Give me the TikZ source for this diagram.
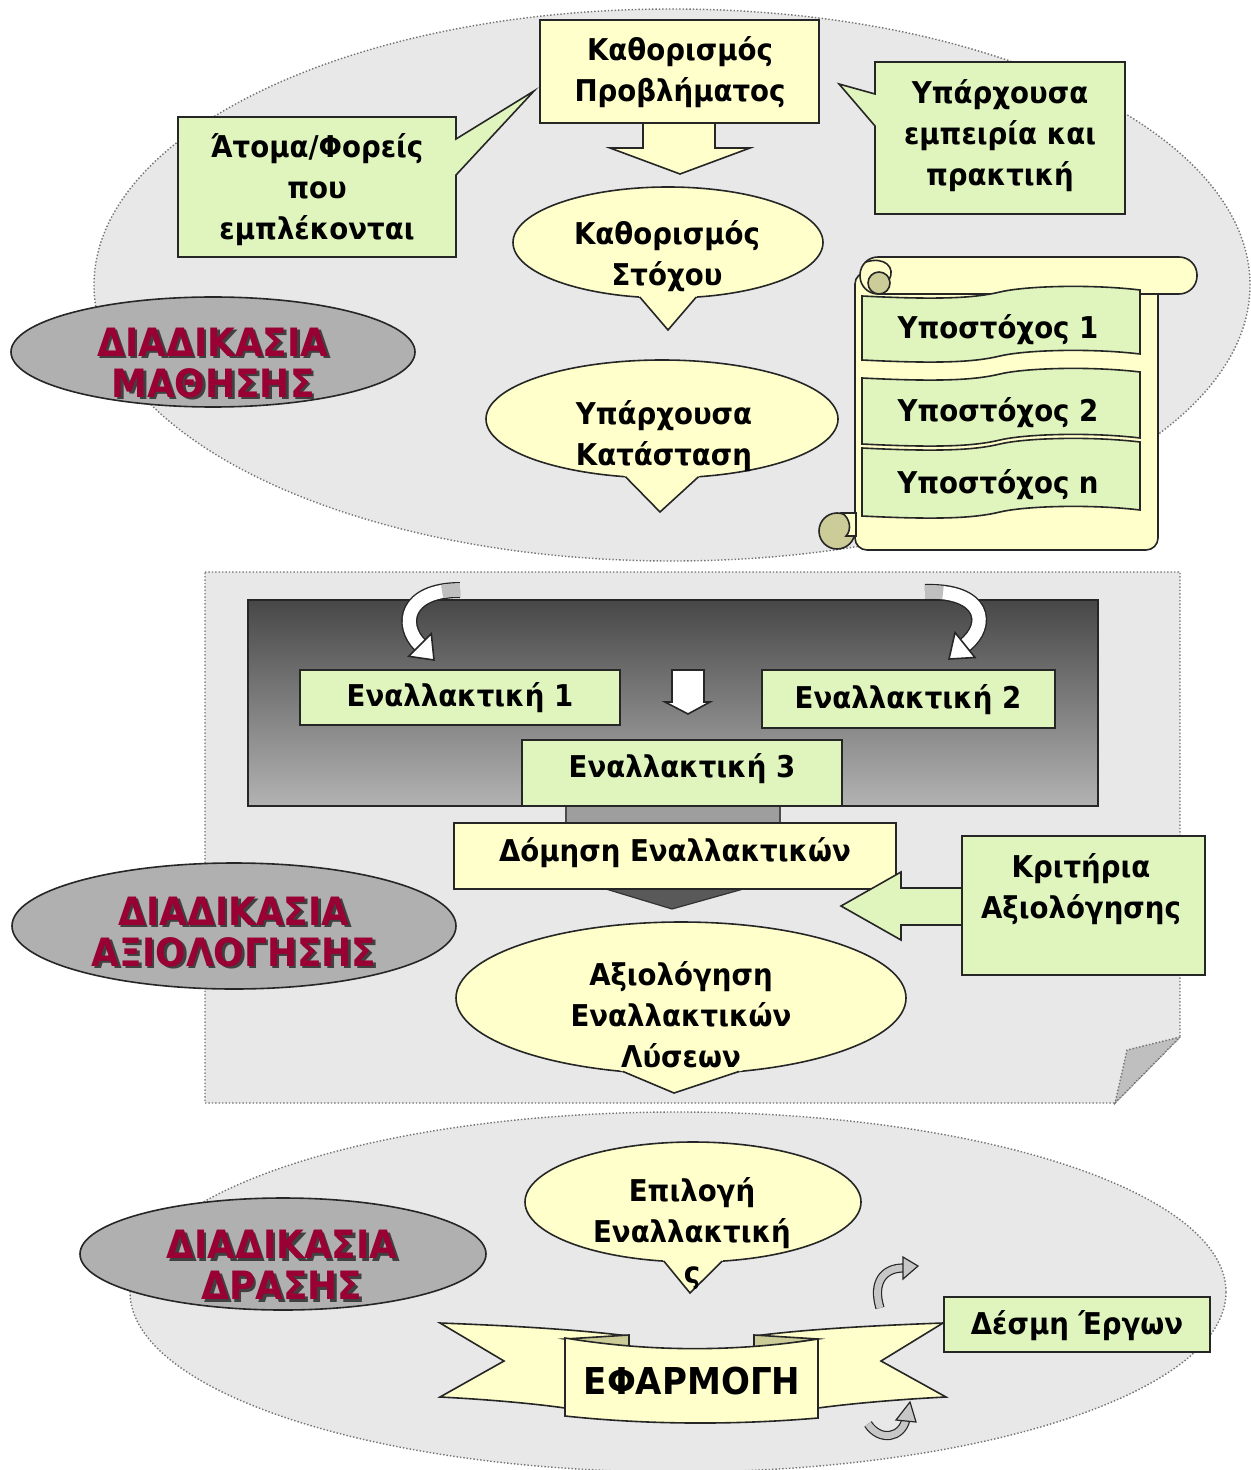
\documentclass[tikz,border=0pt]{standalone}
\usepackage{fontspec}
\setmainfont{DejaVu Sans}[FakeStretch=0.92]
\usetikzlibrary{shapes.geometric,calc}
\definecolor{bgg}{HTML}{E8E8E8}
\definecolor{yel}{HTML}{FFFFCC}
\definecolor{grn}{HTML}{E0F5BE}
\definecolor{labg}{HTML}{B0B0B0}
\definecolor{labr}{HTML}{990033}
\definecolor{khaki}{HTML}{CCCC99}
\definecolor{edge}{HTML}{262626}
\newcommand\shtext[1]{\makebox[0pt][l]{\hspace{1.3pt}\raisebox{-1.3pt}{\color{black!75}#1}}#1}
\tikzset{
 outl/.style={draw=edge, line width=0.8pt},
 bigell/.style={ellipse, fill=bgg, draw=black!55, densely dotted, line width=0.7pt, inner sep=0pt, outer sep=0pt},
 labell/.style={ellipse, fill=labg, draw=edge, line width=0.8pt, inner sep=0pt, outer sep=0pt},
 labtxt/.style={font=\fontsize{19.5}{20.5}\selectfont\bfseries, text=labr, align=center, inner sep=0pt},
 txt/.style={font=\fontsize{15}{20.5}\selectfont\bfseries, align=center, inner sep=0pt},
 ybox/.style={rectangle, fill=yel, outl, inner sep=0pt, outer sep=0pt},
 gbox/.style={rectangle, fill=grn, outl, inner sep=0pt, outer sep=0pt},
 yell/.style={ellipse, fill=yel, outl, inner sep=0pt, outer sep=0pt},
 bandb/.style={line width=8pt, draw=edge, line cap=butt},
 bandw/.style={line width=6.6pt, draw=white, line cap=butt},
 bandg/.style={line width=6.6pt, draw=black!25, line cap=butt, dash pattern=on 9pt off 500pt},
 curlb/.style={line width=4.6pt, draw=edge, line cap=butt},
 curlg/.style={line width=3.4pt, draw=black!22, line cap=butt},
}
\newcommand\rectnode[7]{\node[#2, minimum width={(#5-#3)*0.5pt}, minimum height={(#6-#4)*0.5pt}] (#1) at ({(#3+#5)/2},{(#4+#6)/2}) {#7};}
\newcommand\ecall[8]{%
 \node[yell, minimum width=#4pt, minimum height=#5pt] (#1) at (#2,#3) {};
 \coordinate (#1a) at ($(#2,#3)+({-#4*sin(#6)},{#5*cos(#6)})$);
 \coordinate (#1b) at ($(#2,#3)+({#4*sin(#6)},{#5*cos(#6)})$);
 \coordinate (#1t) at (#7,#8);
 \fill[yel] ($(#1t)!1.3!(#1a)$) -- (#1t) -- ($(#1t)!1.3!(#1b)$) -- cycle;
 \draw[outl, line join=miter] (#1a) -- (#1t) -- (#1b);
}
\newcommand\band[2]{%
 \draw[outl, fill=grn] (862,#1+4) .. controls (940,#1+8) and (975,#1+6) .. (1000,#1)
   .. controls (1025,#1-6) and (1090,#1-8) .. (1140,#1-2) -- (1140,#1+#2-2)
   .. controls (1090,#1+#2-8) and (1025,#1+#2-6) .. (1000,#1+#2)
   .. controls (975,#1+#2+6) and (940,#1+#2+8) .. (862,#1+#2+4) -- cycle;}
\begin{document}
\begin{tikzpicture}[x=0.5pt,y=-0.5pt]
\useasboundingbox (0,0) rectangle (1250,1470);
\fill[white] (0,0) rectangle (1250,1470);

% ---------- background areas
\node[bigell, minimum width=578pt, minimum height=276pt] (topell) at (672,285) {};
\draw[fill=bgg, draw=black!55, densely dotted, line width=0.7pt] (205,572) -- (1180,572) -- (1180,1037) -- (1115,1103) -- (205,1103) -- cycle;
\draw[fill=black!25, draw=black!55, densely dotted, line width=0.7pt] (1180,1037) -- (1127,1050) -- (1115,1103) -- cycle;
\node[bigell, minimum width=548pt, minimum height=180pt] (botell) at (678,1292) {};

% ---------- top section
\draw[outl, fill=yel, line join=miter] (643,110) -- (643,148) -- (610,148) -- (680,174) -- (750,148) -- (715,148) -- (715,110);
\rectnode{prob}{ybox}{540}{20}{819}{123}{}
\node[txt] (probt) at (680,72) {Καθορισμός\\Προβλήματος};

\draw[outl, fill=grn, line join=miter] (178,117) -- (456,117) -- (456,139) -- (534,91) -- (456,175) -- (456,257) -- (178,257) -- cycle;
\node[txt] (atoma) at (317,190) {Άτομα/Φορείς\\που\\εμπλέκονται};

\draw[outl, fill=grn, line join=miter] (875,62) -- (1125,62) -- (1125,214) -- (875,214) -- (875,126) -- (839,84) -- (875,94) -- cycle;
\node[txt] (empeiria) at (1000,136) {Υπάρχουσα\\εμπειρία και\\πρακτική};

\ecall{stoxos}{668}{242.5}{155}{55.5}{10.5}{668}{330}
\node[txt] (stoxost) at (667,256) {Καθορισμός\\Στόχου};

\ecall{katast}{662}{419}{176}{59}{12}{660}{512}
\node[txt] (katastt) at (664,436) {Υπάρχουσα\\Κατάσταση};

% scroll
\draw[outl, fill=yel, rounded corners=6pt] (855,272) -- (855,550) -- (1158,550) -- (1158,280) -- cycle;
\draw[outl, fill=yel, rounded corners=9pt] (860,257) rectangle (1197,294);
\draw[outl, fill=khaki] (879,283) circle [radius=5.5pt];
\draw[outl] (866,262) .. controls (885,256) and (896,268) .. (889,280);
\draw[outl, fill=khaki] (837,531) circle [radius=9pt];
\draw[outl, fill=yel] (842,513) -- (856,513) -- (856,536) -- (846,536) .. controls (852,530) and (850,518) .. (842,513) -- cycle;
\band{292}{64}
\band{374}{66}
\band{444}{68}
\node[txt] (sub1) at (998,330) {Υποστόχος 1};
\node[txt] (sub2) at (998,413) {Υποστόχος 2};
\node[txt] (subn) at (998,485) {Υποστόχος n};

\node[labell, minimum width=202pt, minimum height=55pt] (lab1) at (213,352) {};
\node[labtxt] (lab1t) at (213,364) {\shtext{ΔΙΑΔΙΚΑΣΙΑ}\\\shtext{ΜΑΘΗΣΗΣ}};

% ---------- middle section
\draw[draw=edge, line width=0.8pt, top color=black!72, bottom color=black!30] (248,600) rectangle (1098,806);

% curved arrows
\draw[bandb] (460,590) .. controls (405,590) and (400,625) .. (420,645);
\draw[bandw] (460,590) .. controls (405,590) and (400,625) .. (420,645);
\draw[bandg] (460,590) .. controls (405,590) and (400,625) .. (420,645);
\draw[outl, fill=white, line join=miter] (431.3,633.7) -- (434,660) -- (408.7,656.3) -- cycle;
\draw[bandb] (925,592) .. controls (985,590) and (990,625) .. (965,645);
\draw[bandw] (925,592) .. controls (985,590) and (990,625) .. (965,645);
\draw[bandg] (925,592) .. controls (985,590) and (990,625) .. (965,645);
\draw[outl, fill=white, line join=miter] (975,657.5) -- (949,659) -- (955,632.5) -- cycle;

\draw[outl, fill=white, line join=miter] (672,670) -- (704,670) -- (704,702) -- (710,702) -- (688,714) -- (665,702) -- (672,702) -- cycle;

\rectnode{alt1}{gbox}{300}{670}{620}{725}{}
\node[txt] (alt1t) at (460,698) {Εναλλακτική 1};
\rectnode{alt2}{gbox}{762}{670}{1055}{728}{}
\node[txt] (alt2t) at (908,700) {Εναλλακτική 2};

\draw[draw=black!70, fill=black!38, line width=0.6pt] (566,800) rectangle (780,826);
\rectnode{alt3}{gbox}{522}{740}{842}{806}{}
\node[txt] (alt3t) at (682,769) {Εναλλακτική 3};

\draw[draw=black!80, fill=black!65, line width=0.6pt] (596,886) -- (754,886) -- (672,909) -- cycle;
\rectnode{domisi}{ybox}{454}{823}{896}{889}{}
\node[txt] (domisit) at (675,853) {Δόμηση Εναλλακτικών};

\draw[outl, fill=grn, line join=miter] (966,888) -- (901,888) -- (901,872) -- (841,906) -- (901,940) -- (901,925) -- (966,925);
\rectnode{krit}{gbox}{962}{836}{1205}{975}{}
\node[txt] (kritt) at (1081,889) {Κριτήρια\\Αξιολόγησης};

\ecall{axiol}{681}{998}{225}{76}{15}{674}{1093}
\node[txt] (axiolt) at (681,1015) {Αξιολόγηση\\Εναλλακτικών\\Λύσεων};

\node[labell, minimum width=222pt, minimum height=63pt] (lab2) at (234,926) {};
\node[labtxt] (lab2t) at (234,933) {\shtext{ΔΙΑΔΙΚΑΣΙΑ}\\\shtext{ΑΞΙΟΛΟΓΗΣΗΣ}};

% ---------- bottom section
\node[labell, minimum width=203pt, minimum height=56pt] (lab3) at (283,1254) {};
\node[labtxt] (lab3t) at (282,1266) {\shtext{ΔΙΑΔΙΚΑΣΙΑ}\\\shtext{ΔΡΑΣΗΣ}};

\ecall{epil}{693}{1202}{168}{60}{10}{690}{1293}
\node[txt] (epilt) at (692,1234) {Επιλογή\\Εναλλακτική\\ς};

% ribbon
\draw[outl, fill=yel, line join=miter] (440,1323) .. controls (520,1326) and (580,1330) .. (629,1336) -- (629,1398) -- (565,1408) .. controls (530,1403) and (480,1399) .. (440,1397) -- (504,1361) -- cycle;
\draw[outl, fill=yel, line join=miter] (943,1323) .. controls (860,1326) and (800,1330) .. (754,1336) -- (754,1398) -- (818,1408) .. controls (855,1403) and (905,1399) .. (946,1397) -- (881,1361) -- cycle;
\draw[outl, fill=khaki, line join=miter] (565,1339) -- (629,1335) -- (629,1349) -- cycle;
\draw[outl, fill=khaki, line join=miter] (818,1339) -- (754,1335) -- (754,1349) -- cycle;
\draw[outl, fill=yel] (565,1338) .. controls (650,1352) and (735,1352) .. (818,1339) -- (818,1418) .. controls (735,1425) and (650,1425) .. (565,1416) -- cycle;
\node[font=\fontsize{18.5}{20}\selectfont\bfseries, inner sep=0pt] (efarm) at (692,1381) {ΕΦΑΡΜΟΓΗ};

\rectnode{desmi}{gbox}{944}{1297}{1210}{1352}{}
\node[txt] (desmit) at (1077,1326) {Δέσμη Έργων};

% small curl arrows
\draw[curlb] (880,1308) .. controls (872,1282) and (884,1268) .. (903,1268);
\draw[curlg] (880,1308) .. controls (872,1282) and (884,1268) .. (903,1268);
\draw[outl, fill=black!22, line width=0.6pt, line join=miter] (903,1257) -- (918,1266) -- (903,1279) -- cycle;
\draw[curlb] (868,1424) .. controls (880,1442) and (902,1438) .. (906,1419);
\draw[curlg] (868,1424) .. controls (880,1442) and (902,1438) .. (906,1419);
\draw[outl, fill=black!22, line width=0.6pt, line join=miter] (896,1420) -- (910,1402) -- (916,1422) -- cycle;
\end{tikzpicture}
\end{document}
